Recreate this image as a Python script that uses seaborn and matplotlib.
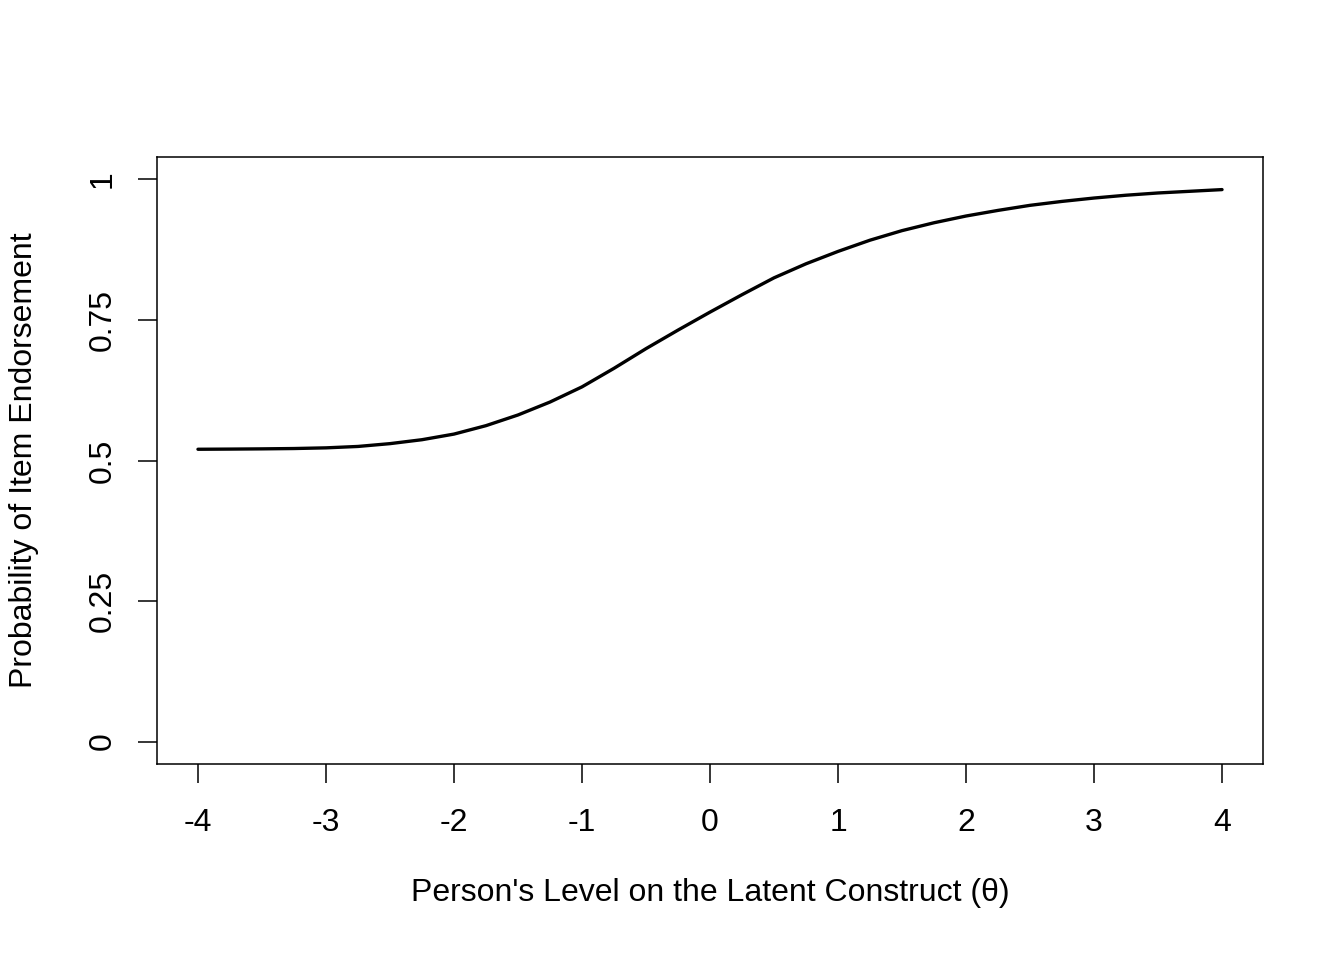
import numpy as np
import pandas as pd
import matplotlib
matplotlib.use("Agg")
import matplotlib.pyplot as plt
import seaborn as sns

# values (quarter steps of theta)
theta = [-4, -3.75, -3.5, -3.25, -3, -2.75, -2.5, -2.25, -2, -1.75, -1.5, -1.25,
         -1, -0.75, -0.5, -0.25, 0, 0.25, 0.5, 0.75, 1, 1.25, 1.5, 1.75,
         2, 2.25, 2.5, 2.75, 3, 3.25, 3.5, 3.75, 4]
prob = [0.520, 0.5203, 0.5207, 0.5213, 0.5225, 0.525, 0.530, 0.537, 0.547, 0.562, 0.581, 0.604,
        0.631, 0.664, 0.699, 0.732, 0.764, 0.795, 0.825, 0.850, 0.872, 0.892, 0.909, 0.923,
        0.935, 0.945, 0.954, 0.961, 0.967, 0.972, 0.976, 0.979, 0.982]
x_ticks = [-4, -3, -2, -1, 0, 1, 2, 3, 4]
y_ticks = [0, 0.25, 0.5, 0.75, 1]
y_tick_labels = ['0', '0.25', '0.5', '0.75', '1']

df = pd.DataFrame({'theta': theta, 'prob': prob})

sns.set_style("ticks")
plt.rcParams['font.family'] = ['Liberation Sans', 'DejaVu Sans']

fig = plt.figure(figsize=(13.44, 9.6), dpi=100)
ax = fig.add_axes([157/1344, 1 - 764/960, (1263-157)/1344, (764-157)/960])

sns.lineplot(data=df, x='theta', y='prob', color='black', linewidth=2.4, ax=ax)

ax.set_xlim(-4.32, 4.32)
ax.set_ylim(-0.04, 1.04)
ax.set_xticks(x_ticks, labels=[str(t) for t in x_ticks])
ax.set_yticks(y_ticks, labels=y_tick_labels)
ax.tick_params(axis='both', direction='out', length=13.5, width=1.1, labelsize=23, colors='black')
ax.tick_params(axis='x', pad=18)
ax.tick_params(axis='y', pad=15)
for lab in ax.get_yticklabels():
    lab.set_rotation(90)
    lab.set_va('center')
for s in ax.spines.values():
    s.set_visible(True)
    s.set_linewidth(1.1)
    s.set_color('black')

ax.set_xlabel("Person's Level on the Latent Construct (\u03b8)", fontsize=23, color='black')
ax.set_ylabel("Probability of Item Endorsement", fontsize=23, color='black')
ax.xaxis.set_label_coords(0.5, -0.188)
ax.yaxis.set_label_coords(-0.107, 0.5)

fig.savefig("out.png", dpi=100)
